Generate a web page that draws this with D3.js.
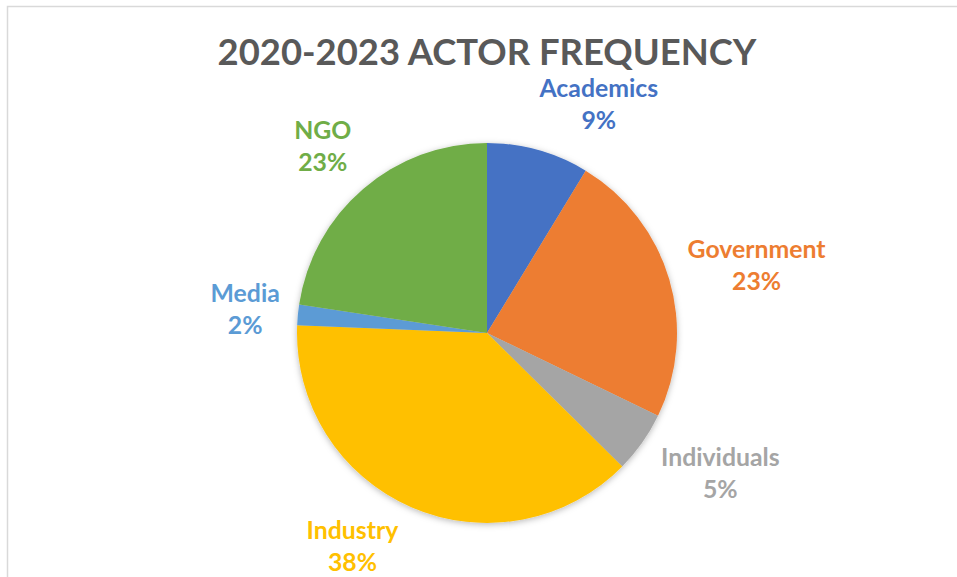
<!DOCTYPE html>
<html>
<head>
<meta charset="utf-8">
<script src="https://cdn.jsdelivr.net/npm/d3@7"></script>
<style>
  html, body { margin: 0; padding: 0; background: #fff; }
  svg { display: block; }
  text { font-family: Lato, "Open Sans", "Liberation Sans", sans-serif; font-weight: 700; }
</style>
</head>
<body>
<svg id="chart" width="957" height="577"></svg>
<script>
// Actor counts, 2020-2023
const actors = ["Academics", "Government", "Individuals", "Industry", "Media", "NGO"];
const counts = [10, 27, 6, 44, 2, 26];
const colors = ["#4472C4", "#ED7D31", "#A5A5A5", "#FFC000", "#5B9BD5", "#70AD47"];
const titleText = "2020-2023 ACTOR FREQUENCY";

// Layout settings
const W = 957, H = 577;
const cx = 487, cy = 333, R = 190;
const labelR = 255;
// per-label nudges (px) from the mid-angle anchor, keeps labels clear of each other and the title
const labelNudge = {
  "Academics":   [43, 18],
  "Government":  [25, 5],
  "Individuals": [25, -6],
  "Industry":    [-33, -20],
  "Media":       [12, 1],
  "NGO":         [2, 7]
};

const svg = d3.select("#chart");

// chart frame
svg.append("rect")
  .attr("x", 7.5).attr("y", 6.5)
  .attr("width", W + 20).attr("height", H + 20)
  .attr("fill", "#fff")
  .attr("stroke", "#d9d9d9")
  .attr("stroke-width", 1.5);

// soft outer shadow under the pie
const defs = svg.append("defs");
const f = defs.append("filter").attr("id", "pieShadow")
  .attr("x", "-20%").attr("y", "-20%").attr("width", "140%").attr("height", "140%");
f.append("feDropShadow")
  .attr("dx", 0).attr("dy", 1.5)
  .attr("stdDeviation", 3)
  .attr("flood-color", "#000")
  .attr("flood-opacity", 0.28);

// title, sized to a fixed width
const title = svg.append("text")
  .attr("x", cx).attr("y", 64.5)
  .attr("text-anchor", "middle")
  .attr("fill", "#595959")
  .attr("font-size", 40)
  .text(titleText);
const tLen = title.node().getComputedTextLength();
title.attr("font-size", 40 * 539 / tLen);

const total = d3.sum(counts);
const data = actors.map((a, i) => ({ actor: a, value: counts[i], color: colors[i] }));

const pie = d3.pie().value(d => d.value).sort(null);
const arc = d3.arc().innerRadius(0).outerRadius(R);
const arcs = pie(data);

const g = svg.append("g").attr("transform", `translate(${cx},${cy})`);
g.append("g").attr("filter", "url(#pieShadow)")
  .selectAll("path")
  .data(arcs)
  .join("path")
  .attr("d", arc)
  .attr("fill", d => d.data.color);

// label font size from a reference word width
const probe = svg.append("text").attr("font-size", 26).text("Government");
const labelSize = 26 * 138 / probe.node().getComputedTextLength();
probe.remove();

const fmt = v => Math.round(v / total * 100) + "%";

g.append("g")
  .selectAll("text")
  .data(arcs)
  .join("text")
  .attr("text-anchor", "middle")
  .attr("font-size", labelSize)
  .attr("fill", d => d.data.color)
  .each(function (d) {
    const mid = (d.startAngle + d.endAngle) / 2;
    const nudge = labelNudge[d.data.actor] || [0, 0];
    const x = labelR * Math.sin(mid) + nudge[0];
    const y = -labelR * Math.cos(mid) + nudge[1];
    const t = d3.select(this);
    t.append("tspan").attr("x", x).attr("y", y - 8).text(d.data.actor);
    t.append("tspan").attr("x", x).attr("y", y + 24).text(fmt(d.data.value));
  });
</script>
</body>
</html>
